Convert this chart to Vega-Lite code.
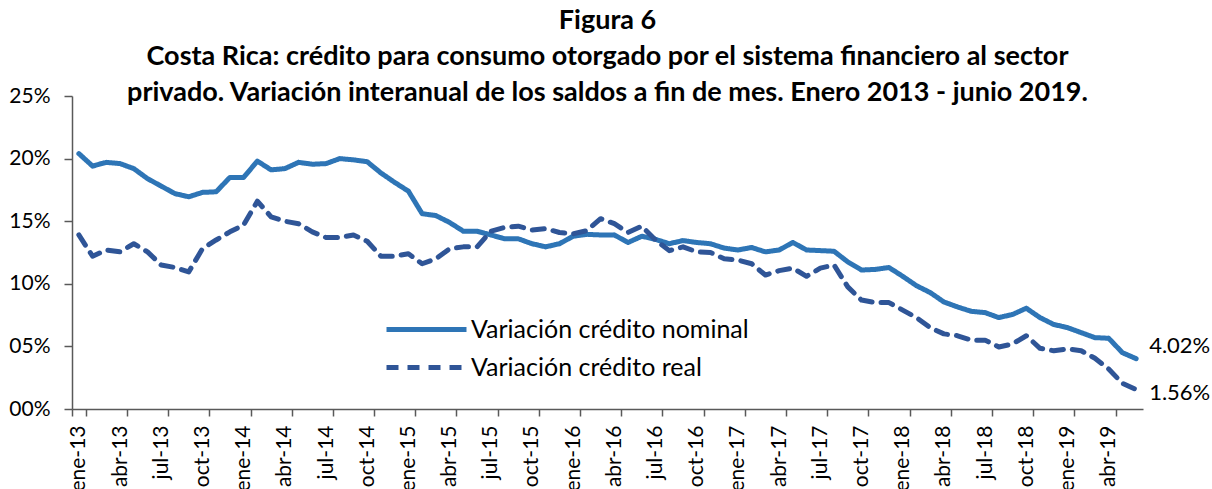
{
  "$schema": "https://vega.github.io/schema/vega-lite/v6.json",
  "autosize": "none",
  "width": 1071,
  "height": 313,
  "padding": {"left": 72, "top": 96, "right": 69, "bottom": 80},
  "background": "white",
  "config": {"view": {"stroke": null}, "font": "Lato"},
  "title": {
    "text": ["Figura 6", "Costa Rica: crédito para consumo otorgado por el sistema financiero al sector", "privado. Variación interanual de los saldos a fin de mes. Enero 2013 - junio 2019."],
    "font": "Lato", "fontSize": 27, "fontWeight": "bold", "color": "black",
    "anchor": "middle", "lineHeight": 36, "offset": -22
  },
  "data": {"values": [
    {"mes": "ene-13", "nominal": 0.204, "real": 0.139},
    {"mes": "feb-13", "nominal": 0.194, "real": 0.122},
    {"mes": "mar-13", "nominal": 0.197, "real": 0.127},
    {"mes": "abr-13", "nominal": 0.196, "real": 0.1255},
    {"mes": "may-13", "nominal": 0.192, "real": 0.132},
    {"mes": "jun-13", "nominal": 0.184, "real": 0.1255},
    {"mes": "jul-13", "nominal": 0.178, "real": 0.115},
    {"mes": "ago-13", "nominal": 0.172, "real": 0.113},
    {"mes": "sep-13", "nominal": 0.1695, "real": 0.1095},
    {"mes": "oct-13", "nominal": 0.173, "real": 0.128},
    {"mes": "nov-13", "nominal": 0.1735, "real": 0.135},
    {"mes": "dic-13", "nominal": 0.185, "real": 0.1415},
    {"mes": "ene-14", "nominal": 0.185, "real": 0.147},
    {"mes": "feb-14", "nominal": 0.198, "real": 0.166},
    {"mes": "mar-14", "nominal": 0.191, "real": 0.1535},
    {"mes": "abr-14", "nominal": 0.192, "real": 0.150},
    {"mes": "may-14", "nominal": 0.197, "real": 0.148},
    {"mes": "jun-14", "nominal": 0.1955, "real": 0.1415},
    {"mes": "jul-14", "nominal": 0.196, "real": 0.137},
    {"mes": "ago-14", "nominal": 0.200, "real": 0.137},
    {"mes": "sep-14", "nominal": 0.199, "real": 0.139},
    {"mes": "oct-14", "nominal": 0.1975, "real": 0.134},
    {"mes": "nov-14", "nominal": 0.1885, "real": 0.122},
    {"mes": "dic-14", "nominal": 0.181, "real": 0.122},
    {"mes": "ene-15", "nominal": 0.174, "real": 0.124},
    {"mes": "feb-15", "nominal": 0.156, "real": 0.116},
    {"mes": "mar-15", "nominal": 0.1545, "real": 0.120},
    {"mes": "abr-15", "nominal": 0.149, "real": 0.128},
    {"mes": "may-15", "nominal": 0.142, "real": 0.1295},
    {"mes": "jun-15", "nominal": 0.142, "real": 0.1295},
    {"mes": "jul-15", "nominal": 0.139, "real": 0.142},
    {"mes": "ago-15", "nominal": 0.136, "real": 0.145},
    {"mes": "sep-15", "nominal": 0.136, "real": 0.146},
    {"mes": "oct-15", "nominal": 0.132, "real": 0.143},
    {"mes": "nov-15", "nominal": 0.1295, "real": 0.144},
    {"mes": "dic-15", "nominal": 0.132, "real": 0.141},
    {"mes": "ene-16", "nominal": 0.138, "real": 0.140},
    {"mes": "feb-16", "nominal": 0.1395, "real": 0.1425},
    {"mes": "mar-16", "nominal": 0.139, "real": 0.152},
    {"mes": "abr-16", "nominal": 0.139, "real": 0.148},
    {"mes": "may-16", "nominal": 0.133, "real": 0.141},
    {"mes": "jun-16", "nominal": 0.138, "real": 0.146},
    {"mes": "jul-16", "nominal": 0.1355, "real": 0.135},
    {"mes": "ago-16", "nominal": 0.132, "real": 0.1265},
    {"mes": "sep-16", "nominal": 0.1345, "real": 0.1295},
    {"mes": "oct-16", "nominal": 0.133, "real": 0.1255},
    {"mes": "nov-16", "nominal": 0.132, "real": 0.125},
    {"mes": "dic-16", "nominal": 0.1285, "real": 0.120},
    {"mes": "ene-17", "nominal": 0.127, "real": 0.119},
    {"mes": "feb-17", "nominal": 0.129, "real": 0.116},
    {"mes": "mar-17", "nominal": 0.1255, "real": 0.107},
    {"mes": "abr-17", "nominal": 0.127, "real": 0.1105},
    {"mes": "may-17", "nominal": 0.133, "real": 0.1125},
    {"mes": "jun-17", "nominal": 0.127, "real": 0.106},
    {"mes": "jul-17", "nominal": 0.1265, "real": 0.1125},
    {"mes": "ago-17", "nominal": 0.126, "real": 0.115},
    {"mes": "sep-17", "nominal": 0.1175, "real": 0.0975},
    {"mes": "oct-17", "nominal": 0.111, "real": 0.087},
    {"mes": "nov-17", "nominal": 0.1115, "real": 0.085},
    {"mes": "dic-17", "nominal": 0.113, "real": 0.085},
    {"mes": "ene-18", "nominal": 0.106, "real": 0.079},
    {"mes": "feb-18", "nominal": 0.0985, "real": 0.073},
    {"mes": "mar-18", "nominal": 0.093, "real": 0.065},
    {"mes": "abr-18", "nominal": 0.0855, "real": 0.060},
    {"mes": "may-18", "nominal": 0.0815, "real": 0.0585},
    {"mes": "jun-18", "nominal": 0.078, "real": 0.055},
    {"mes": "jul-18", "nominal": 0.077, "real": 0.055},
    {"mes": "ago-18", "nominal": 0.073, "real": 0.0495},
    {"mes": "sep-18", "nominal": 0.0755, "real": 0.052},
    {"mes": "oct-18", "nominal": 0.0805, "real": 0.0585},
    {"mes": "nov-18", "nominal": 0.073, "real": 0.0485},
    {"mes": "dic-18", "nominal": 0.0675, "real": 0.0465},
    {"mes": "ene-19", "nominal": 0.065, "real": 0.048},
    {"mes": "feb-19", "nominal": 0.061, "real": 0.0465},
    {"mes": "mar-19", "nominal": 0.057, "real": 0.0405},
    {"mes": "abr-19", "nominal": 0.0565, "real": 0.032},
    {"mes": "may-19", "nominal": 0.045, "real": 0.0205},
    {"mes": "jun-19", "nominal": 0.0402, "real": 0.0156}
  ]},
  "transform": [{"fold": ["nominal", "real"], "as": ["serie", "valor"]}],
  "encoding": {
    "x": {
      "field": "mes", "type": "ordinal", "sort": null, "bandPosition": 0.5,
      "scale": {"type": "band", "paddingInner": 0, "paddingOuter": 0},
      "axis": {
        "title": null, "grid": false,
        "values": ["ene-13","abr-13","jul-13","oct-13","ene-14","abr-14","jul-14","oct-14","ene-15","abr-15","jul-15","oct-15","ene-16","abr-16","jul-16","oct-16","ene-17","abr-17","jul-17","oct-17","ene-18","abr-18","jul-18","oct-18","ene-19","abr-19"],
        "labelAngle": -90, "labelAlign": "right", "labelBaseline": "middle",
        "labelFont": "Lato", "labelFontSize": 21, "labelColor": "black", "labelPadding": 9,
        "tickBand": "extent", "tickSize": 7, "tickWidth": 1.5, "tickColor": "#595959",
        "domainColor": "#595959", "domainWidth": 1.5
      }
    },
    "y": {
      "field": "valor", "type": "quantitative",
      "scale": {"domain": [0, 0.25], "nice": false},
      "axis": {
        "title": null, "grid": false, "values": [0, 0.05, 0.1, 0.15, 0.2, 0.25], "format": "03.0%",
        "labelFont": "Lato", "labelFontSize": 21, "labelColor": "black", "labelPadding": 14,
        "tickSize": 8, "tickWidth": 1.5, "tickColor": "#595959",
        "domainColor": "#595959", "domainWidth": 1.5
      }
    }
  },
  "layer": [
    {
      "mark": {"type": "line", "strokeWidth": 5, "strokeCap": "round", "strokeJoin": "round"},
      "encoding": {
        "order": {"value": null},
        "color": {
          "field": "serie", "type": "nominal",
          "scale": {"domain": ["nominal", "real"], "range": ["#2E75B6", "#2F5597"]},
          "legend": {
            "orient": "none", "legendX": 312, "legendY": 221, "title": null, "padding": 0,
            "labelFont": "Lato", "labelFontSize": 25, "labelColor": "black", "labelOffset": 2, "labelLimit": 500,
            "symbolType": "stroke", "symbolSize": 6400, "symbolStrokeWidth": 5, "rowPadding": 12, "clipHeight": 25,
            "labelExpr": "datum.label == 'nominal' ? 'Variación crédito nominal' : 'Variación crédito real'"
          }
        },
        "strokeDash": {
          "field": "serie", "type": "nominal",
          "scale": {"domain": ["nominal", "real"], "range": [[1, 0], [12, 9]]},
          "legend": {
            "orient": "none", "legendX": 312, "legendY": 221, "title": null, "padding": 0,
            "labelFont": "Lato", "labelFontSize": 25, "labelColor": "black", "labelOffset": 2, "labelLimit": 500,
            "symbolType": "stroke", "symbolSize": 6400, "symbolStrokeWidth": 5, "rowPadding": 12, "clipHeight": 25,
            "labelExpr": "datum.label == 'nominal' ? 'Variación crédito nominal' : 'Variación crédito real'"
          }
        }
      }
    },
    {
      "transform": [{"filter": "datum.mes == 'jun-19' && datum.serie == 'nominal'"}],
      "mark": {"type": "text", "align": "left", "baseline": "middle", "dx": 13, "dy": -13, "font": "Lato", "fontSize": 22, "color": "black"},
      "encoding": {"text": {"field": "valor", "type": "quantitative", "format": ".2%"}}
    },
    {
      "transform": [{"filter": "datum.mes == 'jun-19' && datum.serie == 'real'"}],
      "mark": {"type": "text", "align": "left", "baseline": "middle", "dx": 13, "dy": 4, "font": "Lato", "fontSize": 22, "color": "black"},
      "encoding": {"text": {"field": "valor", "type": "quantitative", "format": ".2%"}}
    }
  ]
}
